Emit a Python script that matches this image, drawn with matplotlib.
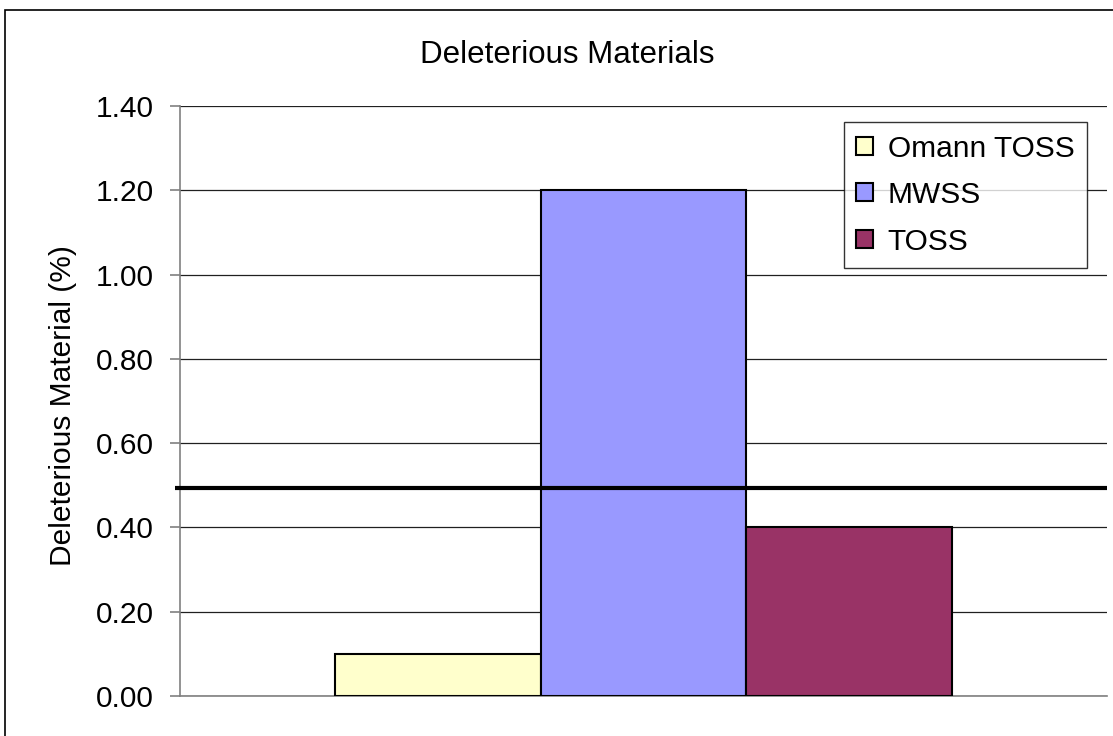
import matplotlib
matplotlib.use("Agg")
import matplotlib.pyplot as plt
from matplotlib.patches import Rectangle

plt.rcParams['font.family'] = ['Liberation Sans', 'DejaVu Sans']

series = ["Omann TOSS", "MWSS", "TOSS"]
values = [0.10, 1.20, 0.40]
colors = ["#FFFFCC", "#9999FF", "#993366"]
limit_value = 0.494
yticks = [0.0, 0.2, 0.4, 0.6, 0.8, 1.0, 1.2, 1.4]
title = "Deleterious Materials"
ylabel = "Deleterious Material (%)"

W, H = 1113, 736
fig = plt.figure(figsize=(W / 100, H / 100), dpi=100)
fig.patch.set_facecolor("white")

# outer chart border (cropped at right/bottom)
fig.add_artist(Rectangle((5 / W, -0.1), 1.2, (H - 10) / H + 0.1, transform=fig.transFigure,
                         fill=False, edgecolor="black", linewidth=1.2))

ax = fig.add_axes([180 / W, 1 - 696 / H, (1107 - 180) / W, (696 - 106) / H])
ax.set_facecolor("white")

bw = 0.2222
for i, (s, v, c) in enumerate(zip(series, values, colors)):
    ax.bar((i - 1) * bw, v, width=bw, color=c, edgecolor="black", linewidth=1.5,
           label=s, zorder=3)

ax.set_xlim(-0.5, 0.5)
ax.set_ylim(0, 1.4)
ax.set_yticks(yticks)
ax.set_yticklabels([f"{t:.2f}" for t in yticks], fontsize=21.5)
ax.set_xticks([])
ax.yaxis.grid(True, color="#202020", linewidth=0.9, zorder=0)
ax.set_axisbelow(True)
for sp in ["top", "right"]:
    ax.spines[sp].set_visible(False)
ax.spines["left"].set_color("#808080")
ax.spines["bottom"].set_color("#808080")
ax.spines["left"].set_linewidth(1.2)
ax.spines["bottom"].set_linewidth(1.2)
ax.tick_params(axis="y", direction="out", length=7, color="#808080", width=1.2, pad=12)

ax.plot([-0.505, 0.5], [limit_value, limit_value], color="black", linewidth=3,
        clip_on=False, zorder=4, solid_capstyle="butt")

ax.set_ylabel(ylabel, fontsize=21.5)
ax.yaxis.set_label_coords((77 - 180) / 927, (696 - 406) / 590)
fig.text(567 / W, 1 - 55 / H, title, ha="center", va="center", fontsize=22.5)

leg = ax.legend(loc="upper right", bbox_to_anchor=((1087 - 180) / (1107 - 180), (696 - 122) / (696 - 106)),
                fontsize=21.5, frameon=True, fancybox=False, edgecolor="black",
                handlelength=0.55, handleheight=0.55, handletextpad=0.5,
                labelspacing=0.62, borderpad=0.42, borderaxespad=0)
leg.get_frame().set_linewidth(1.0)
leg.set_zorder(6)
for h in leg.legend_handles:
    h.set_linewidth(1.5)

fig.savefig("out.png", dpi=100, facecolor="white")
